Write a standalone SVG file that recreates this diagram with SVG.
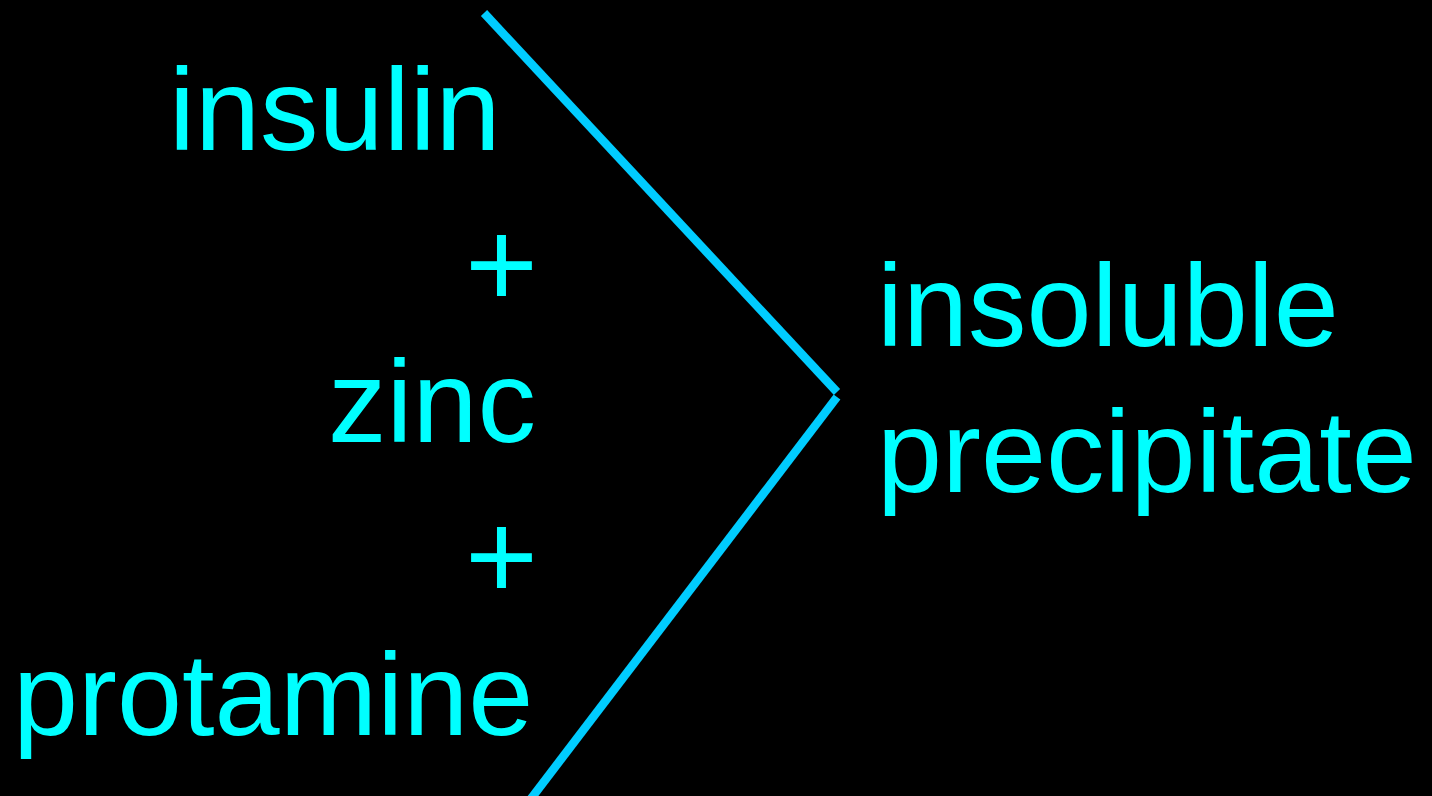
<svg xmlns="http://www.w3.org/2000/svg" width="1432" height="796" viewBox="0 0 1432 796">
<style>
.t{font-family:"Liberation Sans",Arial,sans-serif;font-size:117px;fill:#00FFFF}
.p{font-size:125px}
.c{stroke:#00CCFF;stroke-width:8.5;fill:none;stroke-linecap:butt}
</style>
<rect width="1432" height="796" fill="#000000"/>
<g id="insulin"><text class="t" x="169" y="150">insulin</text></g>
<g id="plus1"><text class="t p" x="465" y="307">+</text></g>
<g id="zinc"><text class="t" x="328" y="442">zinc</text></g>
<g id="plus2"><text class="t p" x="465" y="599">+</text></g>
<g id="protamine"><text class="t" x="13" y="735">protamine</text></g>
<g id="precipitate"><text class="t" x="877" y="346">insoluble</text><text class="t" x="877" y="492">precipitate</text></g>
<g id="connectors">
<line class="c" x1="484" y1="13" x2="837" y2="392"/>
<line class="c" x1="837" y1="397" x2="530" y2="800"/>
</g>
</svg>
